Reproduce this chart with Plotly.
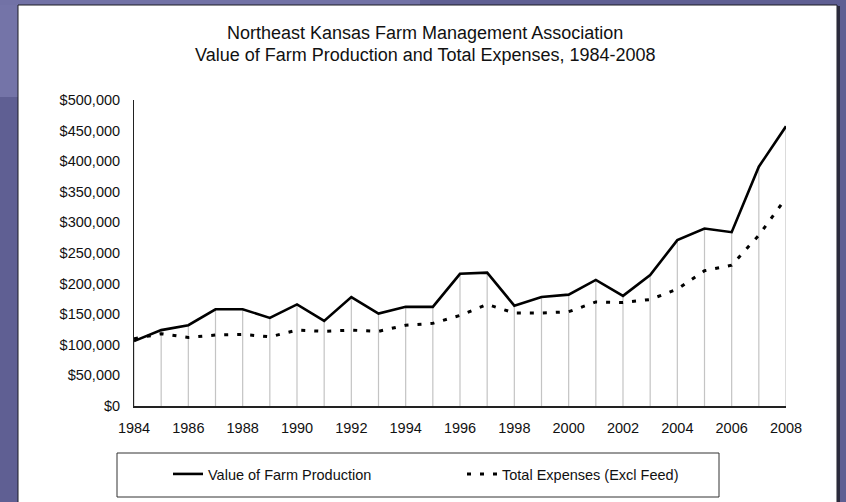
import plotly.graph_objects as go

# data
years = list(range(1984, 2009))
farm_production = [106000, 124000, 132000, 158000, 158000, 144000, 166000, 139000,
                   178000, 151000, 162000, 162000, 216000, 218000, 164000, 178000,
                   182000, 206000, 180000, 214000, 271000, 290000, 284000, 391000, 457000]
total_expenses = [110000, 118000, 112000, 116000, 117000, 113000, 124000, 122000,
                  124000, 122000, 132000, 135000, 148000, 166000, 152000, 152000,
                  154000, 170000, 169000, 174000, 191000, 221000, 230000, 279000, 340000]
x_ticks = list(range(1984, 2009, 2))
y_ticks = list(range(0, 500001, 50000))
y_labels = [f"${v:,}" for v in y_ticks]

FONT = "Liberation Sans, Arial, sans-serif"
W, H = 846, 502
L, R, T, B = 134, 60, 100, 96


# pixel -> paper helpers (paper is relative to the plot area)
def fx(px):
    return (px - L) / (W - L - R)


def fy(py):
    return (H - B - py) / (H - T - B)


fig = go.Figure()

# grey drop lines from the production series down to the axis
fig.add_trace(go.Scatter(
    x=years, y=farm_production, mode="markers",
    marker=dict(size=1, color="rgba(0,0,0,0)"),
    error_y=dict(type="data", symmetric=False, array=[0] * len(years),
                 arrayminus=farm_production, color="#c4c4c4", thickness=1.2, width=0),
    showlegend=False, hoverinfo="skip",
))
fig.add_trace(go.Scatter(
    x=years, y=farm_production, mode="lines", name="Value of Farm Production",
    line=dict(color="#000000", width=2.6),
))
fig.add_trace(go.Scatter(
    x=years, y=total_expenses, mode="lines", name="Total Expenses (Excl Feed)",
    line=dict(color="#000000", width=3, dash="4px,9px"),
))

shapes = [
    # slide background bits
    dict(type="rect", xref="paper", yref="paper", x0=fx(0), x1=fx(18), y0=fy(0), y1=fy(97),
         fillcolor="#7474a8", line_width=0, layer="below"),
    dict(type="rect", xref="paper", yref="paper", x0=fx(0), x1=fx(420), y0=fy(0), y1=fy(5),
         fillcolor="#7272a6", line_width=0, layer="below"),
    # white chart panel
    dict(type="rect", xref="paper", yref="paper", x0=fx(18), x1=fx(837), y0=fy(5), y1=fy(520),
         fillcolor="#ffffff", line=dict(color="#1c1c24", width=1), layer="below"),
    dict(type="rect", xref="paper", yref="paper", x0=fx(837), x1=fx(840), y0=fy(6), y1=fy(520),
         fillcolor="#2a2a3c", line_width=0, layer="below"),
    # legend box
    dict(type="rect", xref="paper", yref="paper", x0=fx(117), x1=fx(719), y0=fy(453), y1=fy(497),
         fillcolor="rgba(0,0,0,0)", line=dict(color="#333333", width=1)),
]

annotations = [
    dict(text="Northeast Kansas Farm Management Association", x=fx(425), y=fy(33),
         xref="paper", yref="paper", showarrow=False, xanchor="center", yanchor="middle",
         font=dict(family=FONT, size=18, color="#111111")),
    dict(text="Value of Farm Production and Total Expenses, 1984-2008", x=fx(425), y=fy(55),
         xref="paper", yref="paper", showarrow=False, xanchor="center", yanchor="middle",
         font=dict(family=FONT, size=18, color="#111111")),
]

fig.update_layout(
    width=W, height=H,
    margin=dict(l=L, r=R, t=T, b=B),
    paper_bgcolor="#5f5f93",
    plot_bgcolor="#ffffff",
    font=dict(family=FONT, size=14.5, color="#111111"),
    shapes=shapes,
    annotations=annotations,
    showlegend=True,
    legend=dict(
        orientation="h", x=fx(168), y=fy(474), xanchor="left", yanchor="middle",
        bgcolor="rgba(0,0,0,0)", borderwidth=0, entrywidth=249,
        font=dict(family=FONT, size=14.5, color="#111111"),
    ),
)
fig.update_xaxes(
    range=[1984, 2008], tickvals=x_ticks, showgrid=False, zeroline=False,
    showline=True, linecolor="#222222", linewidth=1.5, ticks="", ticklabelstandoff=8,
    tickfont=dict(family=FONT, size=14.5, color="#111111"),
)
fig.update_yaxes(
    range=[0, 500000], tickvals=y_ticks, ticktext=y_labels, showgrid=False, zeroline=False,
    showline=True, linecolor="#222222", linewidth=1, ticks="", ticklabelstandoff=10,
    tickfont=dict(family=FONT, size=14.5, color="#111111"),
)

# drop the default page margin so the figure sits at the window's top-left corner
fig.write_html(
    "out.html",
    config={"displayModeBar": False},
    post_script="document.body.style.margin='0';document.body.style.background='#5f5f93';",
)
